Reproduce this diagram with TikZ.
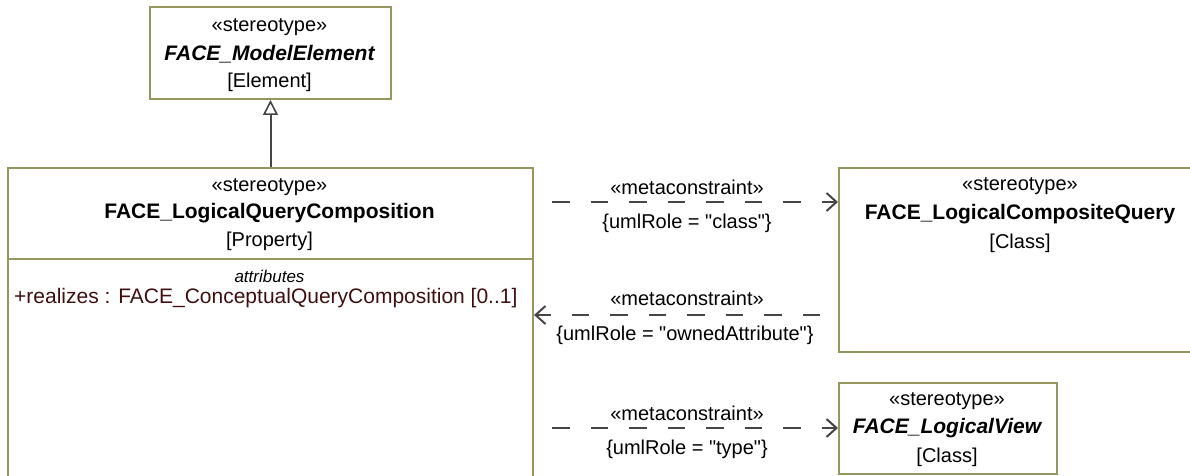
\documentclass[tikz,border=0pt]{standalone}
\usepackage{fontspec}
\setmainfont{Liberation Sans}[Ligatures=TeXOff]
\usetikzlibrary{arrows.meta}
\definecolor{boxc}{RGB}{150,150,96}
\definecolor{linec}{RGB}{70,70,70}
\definecolor{attrc}{RGB}{64,16,16}
\begin{document}
\begin{tikzpicture}[x=1pt,y=-1pt,
  box/.style={draw=boxc, line width=2pt, fill=white, inner sep=0pt, anchor=north west},
  txt/.style={font=\fontsize{20}{24}\selectfont, inner sep=0pt, anchor=center},
  btxt/.style={font=\fontsize{21}{24}\selectfont\bfseries, inner sep=0pt, anchor=center},
  lbl/.style={font=\fontsize{20}{23}\selectfont, inner sep=0pt, anchor=center},
  dep/.style={draw=linec, line width=2pt, dash pattern=on 17.5pt off 21pt,
    -{Straight Barb[length=10pt,width=18pt,line width=2pt]}},
  gen/.style={draw=linec, line width=2pt,
    -{Triangle[open,length=15pt,width=15pt,fill=white,line width=1.6pt]}}]
\clip (0,0) rectangle (1190,476);
\fill[white] (0,0) rectangle (1190,476);
% boxes
\node[box, minimum width=241pt, minimum height=92pt] (me) at (149,6) {};
\node[box, minimum width=525pt, minimum height=330pt] (lqc) at (7,167) {};
\node[box, minimum width=364pt, minimum height=184pt] (cq) at (838,167) {};
\node[box, minimum width=218pt, minimum height=91pt] (lv) at (838,382) {};
\draw[draw=boxc, line width=2pt] (lqc.west |- 0,259) coordinate (dvl) -- (lqc.east |- 0,259) coordinate (dvr);
% texts: FACE_ModelElement
\node[txt] (me1) at (269.5,27) {«stereotype»};
\node[btxt] (me2) at (269.5,54) {\itshape FACE\_ModelElement};
\node[txt] (me3) at (269.5,82) {[Element]};
% FACE_LogicalQueryComposition
\node[txt] (q1) at (269.5,187) {«stereotype»};
\node[btxt] (q2) at (269.5,213) {FACE\_LogicalQueryComposition};
\node[txt] (q3) at (269.5,241) {[Property]};
\node[inner sep=0pt, font=\fontsize{17}{20}\selectfont\itshape] (qa) at (269.5,276) {attributes};
\node[inner sep=0pt, anchor=west, text=attrc, font=\fontsize{21}{24}\selectfont] (qr) at (14,298) {+realizes : FACE\_ConceptualQueryComposition [0..1]};
% FACE_LogicalCompositeQuery
\node[txt] (c1) at (1020,186) {«stereotype»};
\node[btxt] (c2) at (1020,214) {FACE\_LogicalCompositeQuery};
\node[txt] (c3) at (1020,243) {[Class]};
% FACE_LogicalView
\node[txt] (v1) at (947,401) {«stereotype»};
\node[btxt] (v2) at (947,428) {\itshape FACE\_LogicalView};
\node[txt] (v3) at (947,457) {[Class]};
% generalization
\draw[gen] (lqc.north) -- (me.south);
% dependencies
\coordinate (d1) at (552,202);
\draw[dep] (d1) -- (cq.west |- d1);
\node[lbl] (l1a) at (687,187) {«metaconstraint»};
\node[lbl] (l1b) at (687,223) {\{umlRole = "class"\}};
\coordinate (d2) at (820,315);
\draw[dep] (d2) -- (lqc.east |- d2);
\node[lbl] (l2a) at (687,298) {«metaconstraint»};
\node[lbl] (l2b) at (685,335) {\{umlRole = "ownedAttribute"\}};
\coordinate (d3) at (552,428);
\draw[dep] (d3) -- (lv.west |- d3);
\node[lbl] (l3a) at (687,413) {«metaconstraint»};
\node[lbl] (l3b) at (687,449) {\{umlRole = "type"\}};
\end{tikzpicture}
\end{document}
